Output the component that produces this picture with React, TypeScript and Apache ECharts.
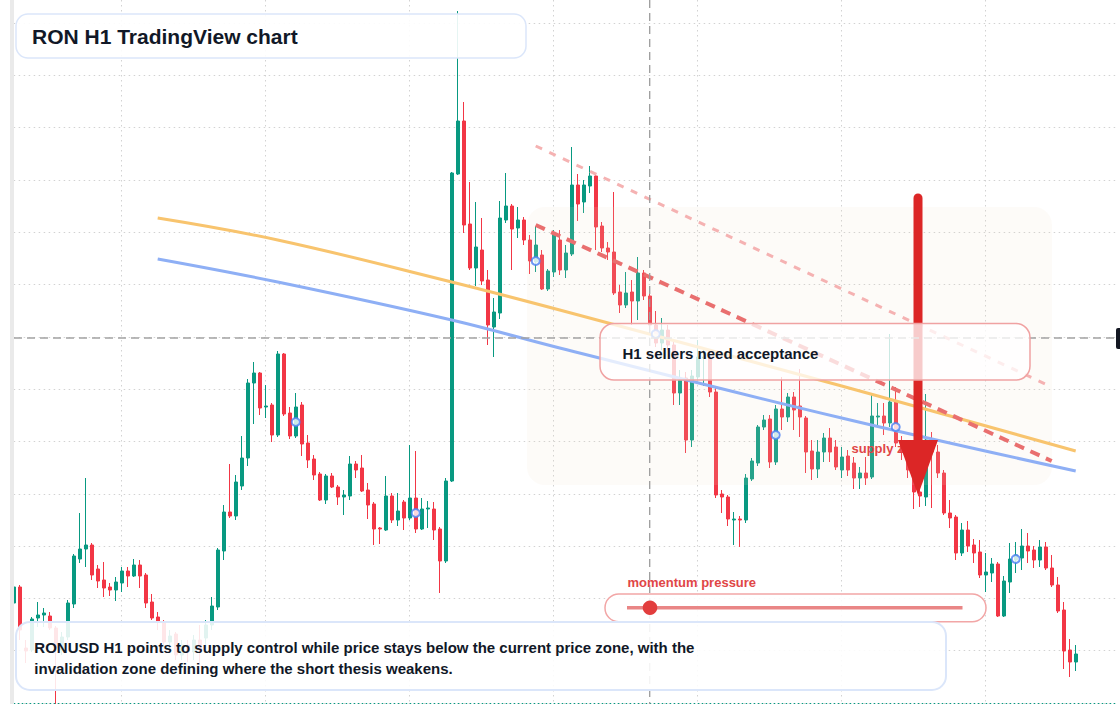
import React, { useEffect, useRef } from 'react';
import * as echarts from 'echarts';

// ---------- data (RONUSD, H1) ----------
const START = Date.UTC(2025, 5, 2, 0);
const categories: string[] = Array.from({ length: 185 }, (_, i) =>
  new Date(START + i * 3600000).toISOString().slice(5, 16).replace('T', ' ')
);

const opens = [
  0.4900, 0.4916, 0.4855, 0.4853, 0.4885, 0.4888, 0.4887, 0.4875, 0.4853, 0.4866,
  0.4899, 0.4944, 0.4954, 0.4958, 0.4934, 0.4923, 0.4916, 0.4913, 0.4920, 0.4932,
  0.4927, 0.4938, 0.4928, 0.4901, 0.4886, 0.4881, 0.4861, 0.4869, 0.4848, 0.4858,
  0.4851, 0.4863, 0.4865, 0.4878, 0.4896, 0.4952, 0.4991, 0.4987, 0.5017, 0.5045,
  0.5120, 0.5130, 0.5096, 0.5098, 0.5068, 0.5149, 0.5090, 0.5067, 0.5098, 0.5060,
  0.5044, 0.5029, 0.5003, 0.5027, 0.5016, 0.5006, 0.5007, 0.5039, 0.5035, 0.5013,
  0.4999, 0.4975, 0.4973, 0.5007, 0.4983, 0.5001, 0.4985, 0.5005, 0.4974, 0.4994,
  0.4994, 0.4974, 0.4942, 0.5022, 0.5329, 0.5382, 0.5279, 0.5235, 0.5253, 0.5223,
  0.5176, 0.5190, 0.5283, 0.5297, 0.5275, 0.5283, 0.5263, 0.5241, 0.5248, 0.5214,
  0.5231, 0.5263, 0.5233, 0.5249, 0.5318, 0.5301, 0.5317, 0.5327, 0.5277, 0.5255,
  0.5251, 0.5211, 0.5198, 0.5211, 0.5202, 0.5230, 0.5207, 0.5178, 0.5160, 0.5173,
  0.5158, 0.5110, 0.5125, 0.5063, 0.5126, 0.5145, 0.5146, 0.5111, 0.5009, 0.5006,
  0.4983, 0.4984, 0.4983, 0.5024, 0.5040, 0.5076, 0.5084, 0.5041, 0.5094, 0.5086,
  0.5106, 0.5097, 0.5085, 0.5052, 0.5034, 0.5051, 0.5065, 0.5056, 0.5033, 0.5047,
  0.5040, 0.5025, 0.5030, 0.5026, 0.5086, 0.5087, 0.5080, 0.5101, 0.5060, 0.5051,
  0.5038, 0.5011, 0.5006, 0.5063, 0.5051, 0.5030, 0.4990, 0.4986, 0.4950, 0.4973,
  0.4958, 0.4951, 0.4928, 0.4930, 0.4939, 0.4887, 0.4921, 0.4943, 0.4945, 0.4957,
  0.4953, 0.4943, 0.4956, 0.4935, 0.4918, 0.4893, 0.4853, 0.4841,
];

const closes = [
  0.4916, 0.4873, 0.4852, 0.4884, 0.4888, 0.4890, 0.4875, 0.4855, 0.4866, 0.4900,
  0.4947, 0.4954, 0.4958, 0.4928, 0.4922, 0.4915, 0.4913, 0.4921, 0.4932, 0.4927,
  0.4938, 0.4927, 0.4900, 0.4885, 0.4881, 0.4861, 0.4867, 0.4848, 0.4858, 0.4851,
  0.4863, 0.4853, 0.4878, 0.4897, 0.4953, 0.4991, 0.4987, 0.5021, 0.5045, 0.5120,
  0.5130, 0.5095, 0.5097, 0.5068, 0.5149, 0.5089, 0.5067, 0.5096, 0.5059, 0.5043,
  0.5028, 0.5003, 0.5027, 0.5016, 0.5006, 0.5008, 0.5039, 0.5033, 0.5012, 0.4998,
  0.4974, 0.4974, 0.5007, 0.4983, 0.4992, 0.4985, 0.5005, 0.4974, 0.4994, 0.4995,
  0.4973, 0.4942, 0.5022, 0.5330, 0.5382, 0.5278, 0.5235, 0.5256, 0.5222, 0.5178,
  0.5191, 0.5285, 0.5297, 0.5274, 0.5283, 0.5263, 0.5242, 0.5258, 0.5214, 0.5232,
  0.5270, 0.5233, 0.5250, 0.5318, 0.5299, 0.5318, 0.5327, 0.5276, 0.5255, 0.5251,
  0.5210, 0.5198, 0.5210, 0.5202, 0.5230, 0.5207, 0.5178, 0.5160, 0.5173, 0.5158,
  0.5110, 0.5123, 0.5063, 0.5127, 0.5146, 0.5146, 0.5111, 0.5008, 0.5006, 0.4984,
  0.4984, 0.4983, 0.5025, 0.5042, 0.5076, 0.5083, 0.5041, 0.5094, 0.5086, 0.5106,
  0.5093, 0.5086, 0.5051, 0.5034, 0.5051, 0.5065, 0.5051, 0.5036, 0.5046, 0.5033,
  0.5025, 0.5030, 0.5025, 0.5087, 0.5087, 0.5080, 0.5101, 0.5060, 0.5051, 0.5033,
  0.5011, 0.5007, 0.5063, 0.5051, 0.5030, 0.4990, 0.4985, 0.4950, 0.4973, 0.4957,
  0.4950, 0.4928, 0.4931, 0.4939, 0.4887, 0.4922, 0.4944, 0.4948, 0.4957, 0.4952,
  0.4943, 0.4956, 0.4935, 0.4918, 0.4892, 0.4852, 0.4841, 0.4849,
];

const lows = [
  0.4897, 0.4863, 0.4840, 0.4851, 0.4876, 0.4876, 0.4873, 0.4799, 0.4848, 0.4863,
  0.4895, 0.4940, 0.4936, 0.4923, 0.4915, 0.4906, 0.4907, 0.4902, 0.4911, 0.4916,
  0.4926, 0.4915, 0.4895, 0.4883, 0.4873, 0.4858, 0.4853, 0.4843, 0.4843, 0.4841,
  0.4843, 0.4838, 0.4858, 0.4873, 0.4893, 0.4943, 0.4985, 0.4983, 0.5013, 0.5037,
  0.5079, 0.5088, 0.5085, 0.5061, 0.5066, 0.5087, 0.5064, 0.5065, 0.5047, 0.5035,
  0.5023, 0.5002, 0.4999, 0.5015, 0.4998, 0.4988, 0.5003, 0.5025, 0.5011, 0.4984,
  0.4958, 0.4959, 0.4972, 0.4980, 0.4977, 0.4973, 0.4983, 0.4970, 0.4973, 0.4975,
  0.4963, 0.4910, 0.4940, 0.5021, 0.5328, 0.5270, 0.5233, 0.5217, 0.5218, 0.5158,
  0.5146, 0.5184, 0.5280, 0.5233, 0.5265, 0.5258, 0.5229, 0.5231, 0.5213, 0.5212,
  0.5226, 0.5228, 0.5225, 0.5247, 0.5282, 0.5290, 0.5310, 0.5253, 0.5251, 0.5243,
  0.5208, 0.5190, 0.5195, 0.5178, 0.5183, 0.5203, 0.5173, 0.5156, 0.5153, 0.5153,
  0.5098, 0.5098, 0.5050, 0.5056, 0.5123, 0.5117, 0.5106, 0.5005, 0.4990, 0.4977,
  0.4958, 0.4956, 0.4980, 0.5022, 0.5037, 0.5073, 0.5035, 0.5038, 0.5073, 0.5081,
  0.5073, 0.5066, 0.5030, 0.5023, 0.5025, 0.5041, 0.5041, 0.5033, 0.5025, 0.5027,
  0.5014, 0.5014, 0.5018, 0.5024, 0.5078, 0.5068, 0.5076, 0.5056, 0.5043, 0.5025,
  0.4994, 0.4996, 0.4997, 0.4995, 0.5025, 0.4988, 0.4975, 0.4943, 0.4947, 0.4951,
  0.4940, 0.4925, 0.4911, 0.4921, 0.4886, 0.4886, 0.4910, 0.4930, 0.4933, 0.4940,
  0.4935, 0.4936, 0.4933, 0.4916, 0.4890, 0.4834, 0.4826, 0.4832,
];

const highs = [
  0.4918, 0.4918, 0.4863, 0.4886, 0.4901, 0.4895, 0.4891, 0.4877, 0.4871, 0.4903,
  0.4949, 0.4990, 0.5025, 0.4960, 0.4938, 0.4941, 0.4920, 0.4926, 0.4936, 0.4936,
  0.4944, 0.4943, 0.4930, 0.4909, 0.4891, 0.4883, 0.4873, 0.4871, 0.4863, 0.4863,
  0.4868, 0.4878, 0.4883, 0.4906, 0.4955, 0.4998, 0.5039, 0.5028, 0.5067, 0.5124,
  0.5141, 0.5131, 0.5118, 0.5100, 0.5152, 0.5150, 0.5096, 0.5110, 0.5101, 0.5068,
  0.5048, 0.5031, 0.5029, 0.5030, 0.5018, 0.5013, 0.5047, 0.5042, 0.5048, 0.5020,
  0.5001, 0.4976, 0.5027, 0.5010, 0.5010, 0.5003, 0.5058, 0.5052, 0.5005, 0.5002,
  0.5001, 0.4976, 0.5025, 0.5331, 0.5492, 0.5401, 0.5321, 0.5301, 0.5285, 0.5233,
  0.5205, 0.5302, 0.5330, 0.5299, 0.5296, 0.5286, 0.5268, 0.5277, 0.5253, 0.5234,
  0.5273, 0.5273, 0.5258, 0.5356, 0.5329, 0.5323, 0.5337, 0.5329, 0.5281, 0.5261,
  0.5311, 0.5218, 0.5231, 0.5223, 0.5246, 0.5233, 0.5209, 0.5192, 0.5185, 0.5178,
  0.5163, 0.5133, 0.5131, 0.5133, 0.5163, 0.5153, 0.5153, 0.5115, 0.5013, 0.5008,
  0.4991, 0.4987, 0.5029, 0.5045, 0.5078, 0.5088, 0.5088, 0.5098, 0.5126, 0.5110,
  0.5111, 0.5134, 0.5087, 0.5063, 0.5063, 0.5070, 0.5075, 0.5063, 0.5056, 0.5053,
  0.5046, 0.5036, 0.5046, 0.5108, 0.5100, 0.5100, 0.5169, 0.5116, 0.5067, 0.5058,
  0.5045, 0.5018, 0.5109, 0.5071, 0.5058, 0.5033, 0.5003, 0.4988, 0.4980, 0.4982,
  0.4964, 0.4963, 0.4950, 0.4945, 0.4941, 0.4927, 0.4960, 0.4961, 0.4974, 0.4970,
  0.4957, 0.4963, 0.4961, 0.4948, 0.4926, 0.4901, 0.4864, 0.4858,
];

// moving averages (category index, price)
const emaFast = [[24, 0.5285], [44, 0.5263], [73, 0.5221], [91, 0.5193], [138, 0.5117], [177, 0.5052]];
const emaSlow = [[24, 0.5244], [44, 0.5221], [73, 0.5183], [91, 0.5155], [138, 0.5085], [177, 0.5032]];
// descending trendlines
const upperTrend = [[87, 0.5357], [173, 0.5116]];
const lowerTrend = [[87, 0.5278], [173, 0.5042]];
// swing markers
const pivotMarks = [[47, 0.5081], [67, 0.4990], [87, 0.5242], [107, 0.5169], [127, 0.5068], [147, 0.5076], [167, 0.4944]];

const Y_MIN = 0.48;
const Y_MAX = 0.5503;
const Y_STEP = 0.068 / 13;

const UP = '#089981';
const DOWN = '#f23645';
const FONT = '"Liberation Sans", Arial, Helvetica, sans-serif';
const INK = '#111827';

function txt(x: number, y: number, text: string, size: number, color: string, z: number) {
  return {
    type: 'text',
    z,
    silent: true,
    x,
    y,
    style: {
      text,
      fill: color,
      font: `bold ${size}px ${FONT}`,
      textAlign: 'left',
      align: 'left',
      textVerticalAlign: 'middle',
      verticalAlign: 'middle',
    },
  };
}

export default function App() {
  const ref = useRef<HTMLDivElement>(null);

  useEffect(() => {
    if (!ref.current) return;
    const chart = echarts.init(ref.current, undefined, { renderer: 'svg' });
    const candles = opens.map((o, i) => [o, closes[i], lows[i], highs[i]]);
    const lastClose = closes[closes.length - 1];

    const option: any = {
      animation: false,
      backgroundColor: '#ffffff',
      grid: { left: 13.7, top: 0, width: 1104, height: 703, containLabel: false, outerBoundsMode: 'none' },
      xAxis: {
        type: 'category',
        data: categories,
        boundaryGap: false,
        axisLine: { show: false },
        axisTick: { show: false },
        axisLabel: { show: false },
        splitLine: {
          show: true,
          interval: (index: number) => index % 24 === 18,
          lineStyle: { color: '#d2d2d2', type: [1.5, 3.5], width: 1 },
        },
      },
      yAxis: {
        type: 'value',
        min: Y_MIN,
        max: Y_MAX,
        interval: Y_STEP,
        axisLine: { show: false },
        axisTick: { show: false },
        axisLabel: { show: false },
        splitLine: {
          show: true,
          showMaxLine: false,
          lineStyle: { color: '#d2d2d2', type: [1.5, 3.5], width: 1 },
        },
      },
      series: [
        {
          type: 'candlestick',
          z: 2,
          data: candles,
          barWidth: 3.8,
          clip: true,
          itemStyle: {
            color: UP,
            color0: DOWN,
            borderColor: UP,
            borderColor0: DOWN,
            borderWidth: 1,
          },
          markLine: {
            silent: true,
            symbol: ['none', 'none'],
            label: { show: false },
            lineStyle: { color: UP, type: [1.5, 2.5], width: 1.2 },
            data: [{ yAxis: lastClose }],
          },
        },
        {
          type: 'line',
          z: 4,
          data: emaFast,
          smooth: 0.4,
          showSymbol: false,
          symbol: 'none',
          lineStyle: { color: '#f8c46e', width: 3 },
        },
        {
          type: 'line',
          z: 4,
          data: emaSlow,
          smooth: 0.4,
          showSymbol: false,
          symbol: 'none',
          lineStyle: { color: '#8eaff5', width: 3 },
        },
        {
          type: 'line',
          z: 4,
          data: upperTrend,
          showSymbol: false,
          symbol: 'none',
          lineStyle: { color: '#f5b2b2', width: 3, type: [7, 8] },
        },
        {
          type: 'line',
          z: 4,
          data: lowerTrend,
          showSymbol: false,
          symbol: 'none',
          lineStyle: { color: '#e96f6f', width: 4, type: [10, 7] },
        },
        {
          type: 'scatter',
          z: 6,
          data: pivotMarks,
          symbol: 'circle',
          symbolSize: 8,
          itemStyle: { color: '#ffffff', borderColor: '#4a7ef2', borderWidth: 2 },
        },
      ],
      graphic: {
        elements: [
          // left edge bar
          { type: 'rect', z: 9, silent: true, shape: { x: 10, y: 0, width: 4, height: 704 }, style: { fill: '#eaeaea' } },
          // supply zone
          { type: 'rect', z: 3, silent: true, shape: { x: 527, y: 207, width: 525, height: 278, r: 18 }, style: { fill: 'rgba(242,222,202,0.13)' } },
          // crosshair
          { type: 'line', z: 8, silent: true, shape: { x1: 649.7, y1: 0, x2: 649.7, y2: 704 }, style: { stroke: '#9c9c9c', lineWidth: 1.3, lineDash: [8, 5] } },
          { type: 'line', z: 8, silent: true, shape: { x1: 14, y1: 338, x2: 1116, y2: 338 }, style: { stroke: '#a3a3a3', lineWidth: 1.3, lineDash: [8, 5] } },
          { type: 'rect', z: 11, silent: true, shape: { x: 1116, y: 328, width: 60, height: 21, r: 2 }, style: { fill: '#131722' } },
          // supply label (partly under the arrow head)
          txt(851.5, 448.5, 'supply zone', 13, '#e04646', 6.5),
          // red arrow
          { type: 'line', z: 7, silent: true, shape: { x1: 918, y1: 198, x2: 918, y2: 446 }, style: { stroke: '#dc2626', lineWidth: 9, lineCap: 'round' } },
          { type: 'polygon', z: 7, silent: true, shape: { points: [[898, 440], [938, 440], [918, 495]] }, style: { fill: '#dc2626' } },
          // title box
          { type: 'rect', z: 10, silent: true, shape: { x: 16, y: 14, width: 510, height: 44, r: 12 }, style: { fill: 'rgba(255,255,255,0.9)', stroke: '#dbe6fa', lineWidth: 1.5 } },
          txt(32, 36, 'RON H1 TradingView chart', 21, INK, 11),
          // middle callout
          { type: 'rect', z: 10, silent: true, shape: { x: 600, y: 323.5, width: 430, height: 56.5, r: 14 }, style: { fill: 'rgba(255,255,255,0.76)', stroke: '#f0a2a2', lineWidth: 1.5 } },
          txt(622.5, 353.5, 'H1 sellers need acceptance', 15, INK, 11),
          // momentum pill
          txt(627.5, 582.5, 'momentum pressure', 13, '#e04646', 11),
          { type: 'rect', z: 10, silent: true, shape: { x: 605, y: 594, width: 381, height: 27.7, r: 13.8 }, style: { fill: 'rgba(255,255,255,0.88)', stroke: '#f2a6a6', lineWidth: 1.5 } },
          { type: 'line', z: 11, silent: true, shape: { x1: 627, y1: 607.7, x2: 962.5, y2: 607.7 }, style: { stroke: '#e98686', lineWidth: 3.6 } },
          { type: 'circle', z: 11, silent: true, shape: { cx: 650, cy: 607.7, r: 7.3 }, style: { fill: '#e23d3d' } },
          // bottom commentary box
          { type: 'rect', z: 10, silent: true, shape: { x: 16, y: 622, width: 930, height: 68, r: 14 }, style: { fill: 'rgba(255,255,255,0.88)', stroke: '#dbe6fa', lineWidth: 2 } },
          txt(34.3, 647.8, 'RONUSD H1 points to supply control while price stays below the current price zone, with the', 15, INK, 11),
          txt(34.3, 668, 'invalidation zone defining where the short thesis weakens.', 15, INK, 11),
        ],
      },
    };

    chart.setOption(option);
    return () => chart.dispose();
  }, []);

  return (
    <div
      ref={ref}
      style={{ position: 'fixed', left: 0, top: 0, width: 1120, height: 704, background: '#ffffff' }}
    />
  );
}
